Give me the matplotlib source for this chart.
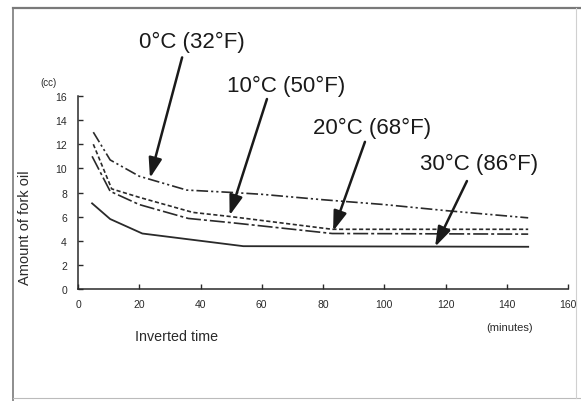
import matplotlib
matplotlib.use("Agg")
import matplotlib.pyplot as plt
from matplotlib.lines import Line2D

plt.rcParams["font.family"] = ["Liberation Sans", "DejaVu Sans"]

INK = "#2a2a2a"

# inverted time (minutes) vs amount of fork oil (cc)
t_0c = [5, 10.5, 20, 35.5, 50.5, 60, 80, 100, 120, 147]
oil_0c = [13.0, 10.7, 9.35, 8.2, 8.0, 7.85, 7.4, 7.0, 6.5, 5.9]

t_10c = [5, 11, 20, 37.5, 50, 83, 147]
oil_10c = [12.0, 8.3, 7.6, 6.35, 6.0, 4.95, 4.95]

t_20c = [4.6, 10.5, 20, 36, 50, 83, 147]
oil_20c = [11.0, 8.1, 7.0, 5.85, 5.5, 4.6, 4.55]

t_30c = [4.6, 10.5, 21, 54, 147]
oil_30c = [7.1, 5.8, 4.6, 3.55, 3.5]

labels = ["0°C (32°F)", "10°C (50°F)", "20°C (68°F)", "30°C (86°F)"]
label_pos = [(37.2, 20.5), (67.9, 16.9), (96.0, 13.4), (131.0, 10.4)]
arrow_from = [(34.0, 19.2), (61.7, 15.75), (93.7, 12.2), (127.0, 8.95)]
arrow_to = [(23.5, 9.2), (49.5, 6.1), (83.3, 4.8), (116.6, 3.5)]

x_ticks = [0, 20, 40, 60, 80, 100, 120, 140, 160]
y_ticks = [0, 2, 4, 6, 8, 10, 12, 14, 16]

fig = plt.figure(figsize=(5.81, 4.02), dpi=100)
ax = fig.add_axes([78 / 581, 1 - 290 / 402, 490 / 581, 193 / 402])

ax.plot(t_0c, oil_0c, color=INK, lw=1.2, linestyle=(0, (7, 1.8, 1.3, 1.8, 1.3, 1.8)))
ax.plot(t_10c, oil_10c, color=INK, lw=1.2, linestyle=(0, (2.5, 1.5)))
ax.plot(t_20c, oil_20c, color=INK, lw=1.2, linestyle=(0, (9, 1.8, 1.8, 1.8)))
ax.plot(t_30c, oil_30c, color=INK, lw=1.3)

for lab, pos, a, b in zip(labels, label_pos, arrow_from, arrow_to):
    ax.text(pos[0], pos[1], lab, fontsize=16, color="#1a1a1a",
            ha="center", va="center", clip_on=False)
    ax.annotate("", xy=b, xytext=a, annotation_clip=False,
                arrowprops=dict(arrowstyle="-|>,head_length=0.75,head_width=0.25",
                                mutation_scale=16, lw=1.8, color="#1a1a1a",
                                shrinkA=0, shrinkB=0))

ax.set_xlim(0, 160)
ax.set_ylim(0, 16)
ax.set_xticks(x_ticks)
ax.set_yticks(y_ticks)
ax.tick_params(direction="in", length=3.5, width=1.0, colors=INK, labelsize=7.5)
ax.tick_params(axis="x", pad=7)
ax.tick_params(axis="y", pad=8)
for side in ["top", "right"]:
    ax.spines[side].set_visible(False)
for side in ["left", "bottom"]:
    ax.spines[side].set_color(INK)
    ax.spines[side].set_linewidth(1.1)
ax.patch.set_alpha(0)

fig.text(25 / 581, 1 - 228 / 402, "Amount of fork oil", rotation=90,
         fontsize=10.5, color=INK, ha="center", va="center")
fig.text(48 / 581, 1 - 83 / 402, "(cc)", fontsize=7, color=INK,
         ha="center", va="center")
fig.text(135 / 581, 1 - 337 / 402, "Inverted time", fontsize=10.3,
         color=INK, ha="left", va="center")
fig.text(510 / 581, 1 - 328 / 402, "(minutes)", fontsize=8, color=INK,
         ha="center", va="center")

# page frame from the scanned figure
frame = "#7a7a7a"
fig.add_artist(Line2D([13 / 581, 1.0], [1 - 9 / 402, 1 - 9 / 402], color=frame, lw=1.6))
fig.add_artist(Line2D([13 / 581, 13 / 581], [1 - 9 / 402, 0], color=frame, lw=1.2))
fig.add_artist(Line2D([13 / 581, 1.0], [1 - 399 / 402, 1 - 399 / 402], color="#bbbbbb", lw=0.8))
fig.add_artist(Line2D([576 / 581, 576 / 581], [1 - 9 / 402, 1 - 399 / 402], color="#d0d0d0", lw=0.8))

fig.savefig("out.png", dpi=100)
